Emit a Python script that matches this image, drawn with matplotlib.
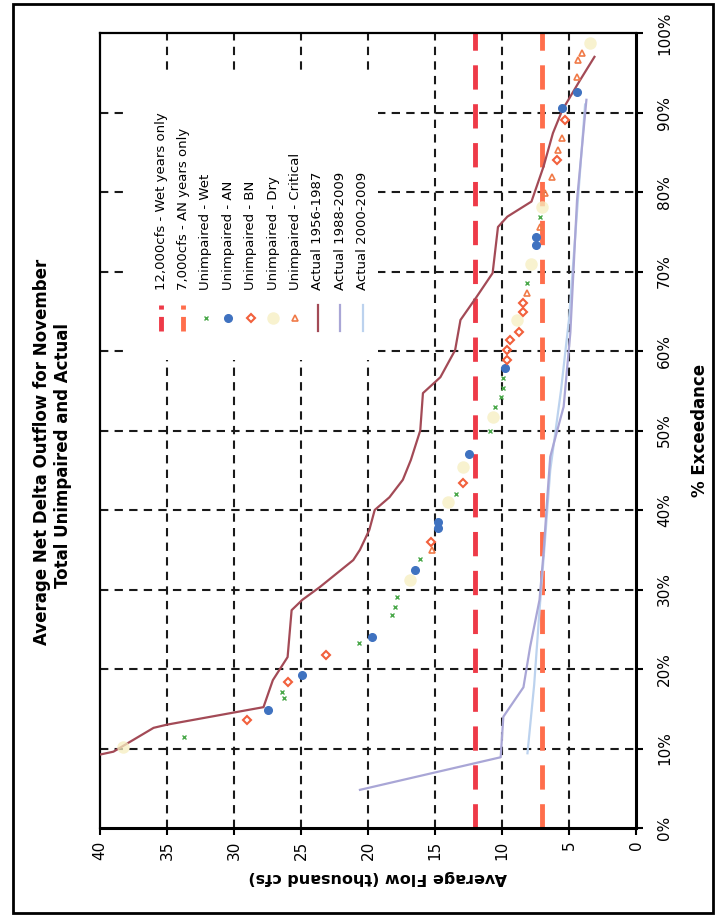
import matplotlib
matplotlib.use("Agg")
import matplotlib.pyplot as plt
from matplotlib.patches import Rectangle
from matplotlib.lines import Line2D

plt.rcParams["font.family"] = ["DejaVu Sans"]

# ---------------- data (flow in thousand cfs, exceedance in %) ----------------
flow_ticks = [0, 5, 10, 15, 20, 25, 30, 35, 40]
exceed_ticks = [0, 10, 20, 30, 40, 50, 60, 70, 80, 90, 100]

wet_only_flow = 12.0   # 12,000 cfs
an_only_flow = 7.0     # 7,000 cfs

act_5687_flow = [40.1, 39.0, 36.0, 35.0, 27.8, 27.1, 26.0, 25.7, 24.9, 23.6, 21.1,
                 20.6, 19.9, 19.5, 18.4, 17.4, 16.8, 16.1, 15.9, 14.6, 13.5, 13.1,
                 11.9, 10.7, 10.3, 9.6, 7.8, 6.9, 6.2, 5.5, 4.2, 3.1]
act_5687_exc = [9.2, 9.6, 12.6, 13.0, 15.2, 18.6, 21.5, 27.4, 28.7, 30.3, 33.7,
                35.0, 37.5, 40.0, 41.6, 43.8, 46.3, 50.0, 54.7, 56.7, 60.1, 63.9,
                66.8, 69.8, 75.6, 76.9, 78.8, 83.2, 87.4, 90.3, 94.0, 97.0]

act_8809_flow = [20.6, 10.1, 9.9, 8.4, 7.9, 7.2, 6.9, 6.6, 6.4, 5.4, 4.9, 4.4, 3.7]
act_8809_exc = [4.8, 8.9, 14.0, 17.7, 22.8, 28.7, 34.6, 42.0, 46.7, 53.0, 62.3, 79.0, 91.6]

act_0009_flow = [8.1, 7.6, 7.2, 6.8, 6.4, 5.6, 5.0, 4.6, 4.2, 3.8]
act_0009_exc = [9.4, 18.0, 27.4, 36.0, 45.0, 55.0, 64.0, 73.0, 82.0, 91.0]

wet_flow = [33.7, 26.3, 26.4, 20.7, 18.2, 18.0, 17.8, 16.1, 13.4, 10.9, 10.5,
            10.1, 9.9, 9.9, 8.1, 7.2]
wet_exc = [11.4, 16.3, 17.1, 23.3, 26.8, 27.8, 29.0, 33.8, 42.0, 50.0, 53.0,
           54.2, 55.3, 56.6, 68.5, 76.9]

an_flow = [27.5, 24.9, 19.7, 16.5, 14.8, 14.8, 12.5, 9.8, 7.5, 7.5, 5.5, 4.4]
an_exc = [14.8, 19.2, 24.0, 32.5, 37.7, 38.5, 47.0, 57.8, 73.3, 74.3, 90.6, 92.6]

bn_flow = [29.0, 26.0, 23.1, 15.3, 12.9, 9.6, 9.6, 9.4, 8.7, 8.4, 8.4, 5.9, 5.3]
bn_exc = [13.6, 18.4, 21.8, 36.0, 43.4, 58.9, 60.1, 61.4, 62.4, 64.9, 66.0, 84.0, 89.0]

dry_flow = [38.3, 16.9, 14.0, 12.9, 10.7, 8.9, 7.8, 7.0, 3.4]
dry_exc = [10.2, 31.2, 41.0, 45.4, 51.7, 63.9, 71.0, 78.1, 98.7]

crit_flow = [15.2, 8.1, 7.2, 6.8, 6.3, 5.8, 5.5, 4.4, 4.3, 4.0]
crit_exc = [35.0, 67.3, 75.6, 79.9, 81.9, 85.3, 86.8, 94.5, 96.6, 97.5]

legend_labels = ["12,000cfs - Wet years only", "7,000cfs - AN years only",
                 "Unimpaired - Wet", "Unimpaired - AN", "Unimpaired - BN",
                 "Unimpaired - Dry", "Unimpaired - Critical",
                 "Actual 1956-1987", "Actual 1988-2009", "Actual 2000-2009"]

# ---------------- styles ----------------
C_RED = "#ee3a48"
C_ORANGE = "#ff6e4c"
C_WET = "#4aa84a"
C_AN = "#3f72c0"
C_BN = "#f2603c"
C_DRY = "#f6eec0"
C_CRIT = "#f07a48"
C_5687 = "#a34a56"
C_8809 = "#a9a6d6"
C_0009 = "#bcd2ee"

W, H = 720, 919
fig = plt.figure(figsize=(W / 100, H / 100), dpi=100)
fig.patch.set_facecolor("white")
ax = fig.add_axes([100 / W, 1 - 828 / H, 536 / W, 795 / H])

ax.set_xlim(40, 0)
ax.set_ylim(0, 100)

# grid
for f in flow_ticks[1:-1]:
    ax.axvline(f, color="#1a1a1a", lw=1.5, dashes=(4, 3), zorder=1)
for e in exceed_ticks[1:-1]:
    ax.axhline(e, color="#1a1a1a", lw=1.5, dashes=(4, 3), zorder=1)

# blank panel behind the legend
ax.add_patch(Rectangle(((128 - 100) / 536, (828 - 360) / 795), 250 / 536, 288 / 795,
                       transform=ax.transAxes, facecolor="white", edgecolor="none",
                       zorder=1.5))

# flow criteria
styles = {}
styles["wet_only"] = dict(color=C_RED, lw=3.5, dashes=(5, 3))
styles["an_only"] = dict(color=C_ORANGE, lw=3.5, dashes=(5, 3))
ax.axvline(wet_only_flow, zorder=2, **styles["wet_only"])
ax.axvline(an_only_flow, zorder=2, **styles["an_only"])

# actual flow duration curves
styles["a0009"] = dict(color=C_0009, lw=1.6)
styles["a8809"] = dict(color=C_8809, lw=1.6)
styles["a5687"] = dict(color=C_5687, lw=1.6)
ax.plot(act_0009_flow, act_0009_exc, zorder=3, **styles["a0009"])
ax.plot(act_8809_flow, act_8809_exc, zorder=3, **styles["a8809"])
ax.plot(act_5687_flow, act_5687_exc, zorder=4, **styles["a5687"])

# unimpaired points by year type
styles["dry"] = dict(ls="none", marker="o", ms=9, mfc=C_DRY, mec="none", alpha=0.75)
styles["wet"] = dict(ls="none", marker="x", ms=3.5, mew=1.0, color=C_WET)
styles["an"] = dict(ls="none", marker="o", ms=5.5, mfc=C_AN, mec=C_AN)
styles["bn"] = dict(ls="none", marker="D", ms=4, mfc="none", mec=C_BN, mew=1.5)
styles["crit"] = dict(ls="none", marker="^", ms=4.5, mfc="none", mec=C_CRIT, mew=1.2)
ax.plot(dry_flow, dry_exc, zorder=5, **styles["dry"])
ax.plot(wet_flow, wet_exc, zorder=6, **styles["wet"])
ax.plot(an_flow, an_exc, zorder=6, **styles["an"])
ax.plot(bn_flow, bn_exc, zorder=6, **styles["bn"])
ax.plot(crit_flow, crit_exc, zorder=6, **styles["crit"])

# axes, ticks
ax.set_xticks(flow_ticks)
ax.set_xticklabels([str(v) for v in flow_ticks])
ax.set_yticks(exceed_ticks)
ax.set_yticklabels([f"{v}%" for v in exceed_ticks])
ax.yaxis.tick_right()
ax.tick_params(axis="x", direction="out", length=5, width=1.5, labelsize=11,
               labelrotation=90, pad=4)
ax.tick_params(axis="y", direction="out", length=5, width=1.5, labelsize=11,
               labelrotation=90, pad=10)
for lab in ax.get_yticklabels():
    lab.set_va("center")
for sp in ax.spines.values():
    sp.set_color("black")
    sp.set_linewidth(1.6)
ax.spines["bottom"].set_linewidth(2.2)
ax.spines["right"].set_linewidth(2.2)

# legend drawn in axes fractions with rotated entries
legend_styles = [styles["wet_only"], styles["an_only"], styles["wet"], styles["an"],
                 styles["bn"], styles["dry"], styles["crit"], styles["a5687"],
                 styles["a8809"], styles["a0009"]]
for i, (lab, st) in enumerate(zip(legend_labels, legend_styles)):
    xf = (161 + 22.4 * i - 100) / 536
    y0, y1 = (828 - 331) / 795, (828 - 305) / 795
    st = dict(st)
    if st.get("ls") == "none":
        ax.plot([xf], [(y0 + y1) / 2], transform=ax.transAxes, clip_on=False,
                zorder=7, **st)
    else:
        if "dashes" in st:
            st["dashes"] = (3, 1.5)
        ax.add_line(Line2D([xf, xf], [y0, y1], transform=ax.transAxes, zorder=7, **st))
    ax.text(xf, (828 - 290) / 795, lab, transform=ax.transAxes, rotation=90,
            ha="center", va="bottom", fontsize=9.5, zorder=8)

# titles and axis labels
fig.text(42 / W, 1 - 452 / H, "Average Net Delta Outflow for November",
         rotation=90, ha="center", va="center", fontsize=12, fontweight="bold")
fig.text(63 / W, 1 - 456 / H, "Total Unimpaired and Actual",
         rotation=90, ha="center", va="center", fontsize=12, fontweight="bold")
fig.text(700 / W, 1 - 430 / H, "% Exceedance", rotation=90, ha="center",
         va="center", fontsize=12, fontweight="bold")
fig.text(378 / W, 1 - 877 / H, "Average Flow (thousand cfs)", rotation=180,
         ha="center", va="center", fontsize=11.5, fontweight="bold")

# page border
fig.patches.append(Rectangle((13 / W, 1 - 913 / H), 700 / W, 909 / H,
                             transform=fig.transFigure, fill=False,
                             edgecolor="black", lw=2))

fig.savefig("out.png", dpi=100)
